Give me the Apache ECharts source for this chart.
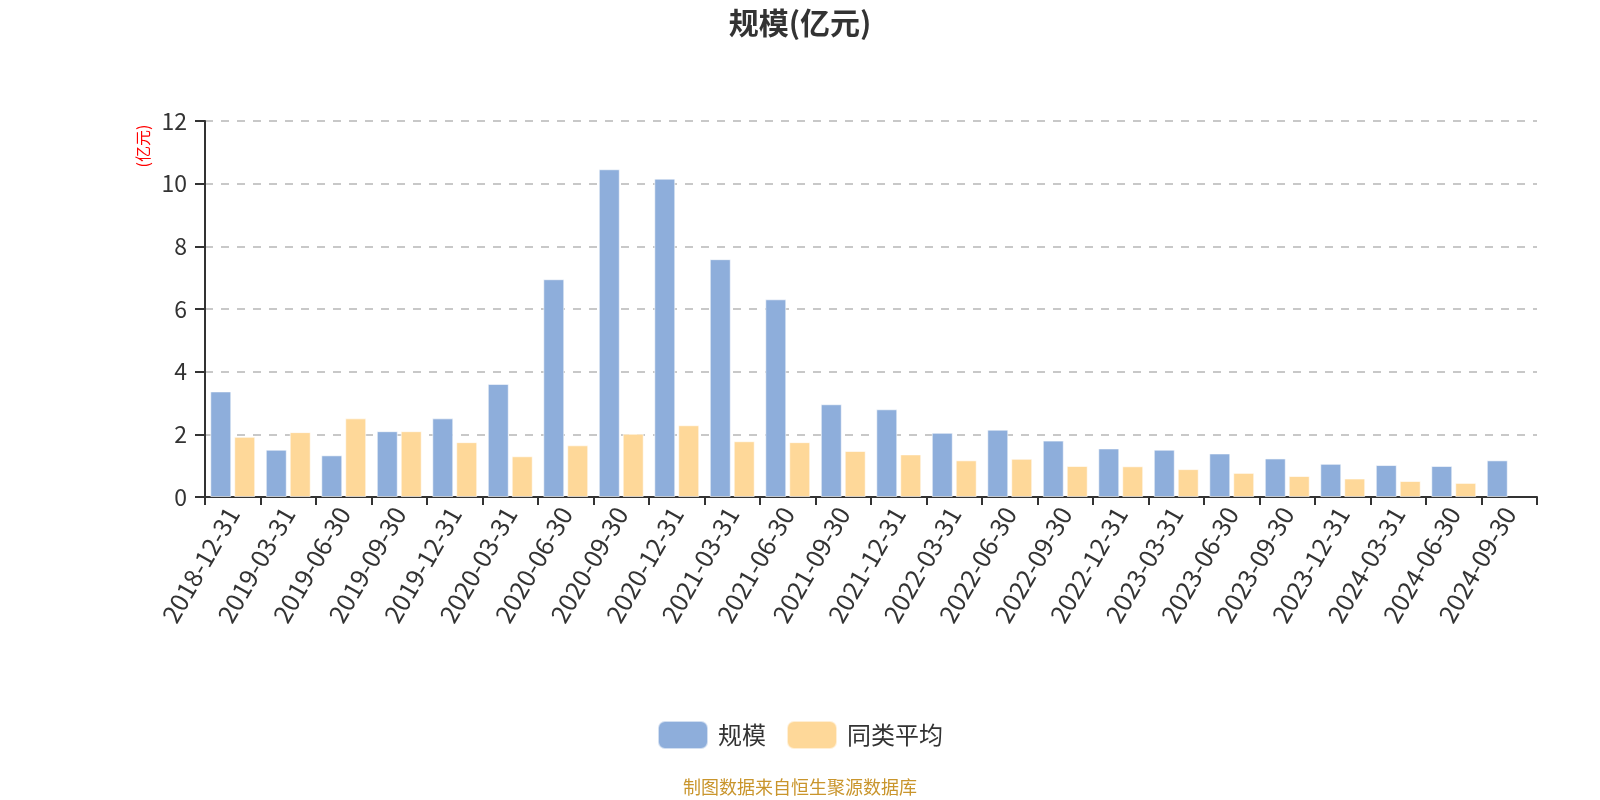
<!DOCTYPE html>
<html>
<head>
<meta charset="utf-8">
<script src="https://cdn.jsdelivr.net/npm/echarts@6/dist/echarts.min.js"></script>
<style>
html,body{margin:0;padding:0;background:#fff;}
#main{width:1600px;height:800px;}
</style>
</head>
<body>
<div id="main"></div>
<script>
const categories = ["2018-12-31","2019-03-31","2019-06-30","2019-09-30","2019-12-31","2020-03-31","2020-06-30","2020-09-30","2020-12-31","2021-03-31","2021-06-30","2021-09-30","2021-12-31","2022-03-31","2022-06-30","2022-09-30","2022-12-31","2023-03-31","2023-06-30","2023-09-30","2023-12-31","2024-03-31","2024-06-30","2024-09-30"];
const scaleValues = [3.37,1.51,1.33,2.10,2.51,3.61,6.95,10.46,10.16,7.59,6.31,2.96,2.80,2.05,2.15,1.80,1.55,1.51,1.39,1.23,1.06,1.02,0.99,1.17];
const peerAvgValues = [1.92,2.07,2.51,2.10,1.75,1.30,1.65,2.02,2.29,1.78,1.75,1.47,1.36,1.17,1.22,0.99,0.98,0.89,0.77,0.67,0.59,0.51,0.45,null];
const seriesNames = ["规模","同类平均"];
const yTicks = {min:0, max:12, interval:2};

const FONT = "'Noto Sans CJK SC', 'Noto Sans', sans-serif";
const chart = echarts.init(document.getElementById('main'));
chart.setOption({
  animation:false,
  backgroundColor:'#fff',
  title:[{
    text:'规模(亿元)', left:'center', top:3,
    textStyle:{fontSize:30, fontWeight:'bold', color:'#333', fontFamily:FONT}
  },{
    text:'制图数据来自恒生聚源数据库', left:'center', top:773,
    textStyle:{fontSize:18, fontWeight:'normal', color:'#c9952c', fontFamily:FONT}
  }],
  graphic:[{
    type:'text', x:143, y:146, rotation:Math.PI/2,
    style:{text:'(亿元)', fill:'#ff0000', font:"16px 'Noto Sans CJK SC'", align:'center', verticalAlign:'middle'}
  }],
  legend:{
    data:seriesNames, left:'center', top:715, itemWidth:50, itemHeight:28, itemGap:20,
    textStyle:{fontSize:24, color:'#333', fontFamily:FONT, padding:[0,0,0,5]}
  },
  grid:{left:205, right:63, top:121, bottom:303, containLabel:false},
  xAxis:{
    type:'category', data:categories,
    axisLine:{lineStyle:{color:'#333', width:2}},
    axisTick:{show:true, length:8, lineStyle:{color:'#333', width:2}},
    axisLabel:{rotate:60, fontSize:25, color:'#333', margin:12, interval:0, fontFamily:FONT}
  },
  yAxis:{
    type:'value', min:yTicks.min, max:yTicks.max, interval:yTicks.interval,
    axisLine:{show:true, lineStyle:{color:'#333', width:2}},
    axisTick:{show:true, length:10, lineStyle:{color:'#333', width:2}},
    axisLabel:{fontSize:23, color:'#333', margin:18, fontFamily:FONT},
    splitLine:{lineStyle:{type:[8,8], color:'#c8c8c8', width:2}}
  },
  series:[{
    name:seriesNames[0], type:'bar', data:scaleValues,
    barGap:'14%', barCategoryGap:'19%',
    itemStyle:{color:'#8eaedb', borderColor:'rgba(255,255,255,0.6)', borderWidth:1}
  },{
    name:seriesNames[1], type:'bar', data:peerAvgValues,
    itemStyle:{color:'#fed899', borderColor:'rgba(255,255,255,0.6)', borderWidth:1}
  }]
});
</script>
</body>
</html>
